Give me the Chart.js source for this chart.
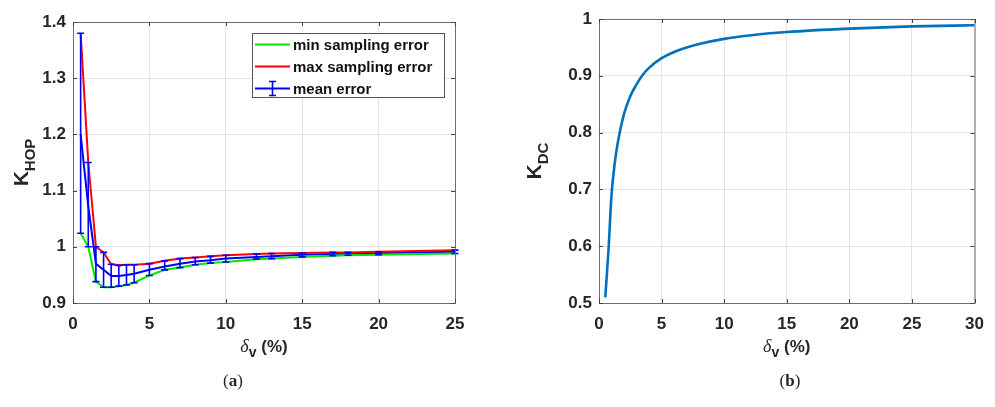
<!DOCTYPE html>
<html>
<head>
<meta charset="utf-8">
<script src="https://cdn.jsdelivr.net/npm/chart.js@4.4.0/dist/chart.umd.min.js"></script>
<style>
  body { margin: 0; background: #fff; width: 995px; height: 407px; overflow: hidden; position: relative; }
  #wrapA { position: absolute; left: 0; top: 0; width: 480px; height: 407px; }
  #wrapB { position: absolute; left: 490px; top: 0; width: 505px; height: 407px; }
</style>
</head>
<body>
<div id="wrapA"><canvas id="chartA"></canvas></div>
<div id="wrapB"><canvas id="chartB"></canvas></div>
<script>
// (a) K_HOP vs delta_v
const deltaA = [0.5, 1, 1.5, 2, 2.5, 3, 3.5, 4, 5, 6, 7, 8, 9, 10, 12, 13, 15, 17, 18, 20, 25];
const maxErr = [1.38, 1.15, 1.0, 0.99, 0.969, 0.967, 0.968, 0.968, 0.970, 0.975, 0.979, 0.981, 0.983, 0.985, 0.987, 0.988, 0.989, 0.990, 0.990, 0.991, 0.994];
const minErr = [1.024, 1.0, 0.938, 0.928, 0.928, 0.930, 0.932, 0.936, 0.949, 0.959, 0.963, 0.968, 0.971, 0.973, 0.978, 0.979, 0.982, 0.984, 0.985, 0.986, 0.988];
const meanErr = [1.2, 1.072, 0.97, 0.959, 0.948, 0.948, 0.950, 0.952, 0.959, 0.965, 0.970, 0.974, 0.976, 0.979, 0.982, 0.983, 0.986, 0.987, 0.988, 0.989, 0.991];
const xTicksA = [0, 5, 10, 15, 20, 25];
const yTicksA = [0.9, 1, 1.1, 1.2, 1.3, 1.4];

// (b) K_DC vs delta_v
const deltaB = [0.5, 0.75, 1, 1.25, 1.5, 2, 2.5, 3, 3.5, 4, 5, 6, 7, 8, 10, 12, 15, 20, 25, 30];
const kdc = [0.51, 0.59, 0.69, 0.745, 0.782, 0.833, 0.864, 0.885, 0.902, 0.914, 0.931, 0.942, 0.950, 0.956, 0.965, 0.971, 0.977, 0.983, 0.987, 0.989];
const xTicksB = [0, 5, 10, 15, 20, 25, 30];
const yTicksB = [0.5, 0.6, 0.7, 0.8, 0.9, 1];

const TXT = '#262626';
const FONT = 'Liberation Sans, Arial, sans-serif';

function pts(xs, ys) {
    return xs.map((x, i) => ({ x: x, y: ys[i] }));
}

function fmt(v) {
    return String(Math.round(v * 10) / 10);
}

// box round the axes with small inward ticks, like matlab
const boxPlugin = {
    id: 'box',
    afterDraw(chart) {
        const { ctx, chartArea: a, scales } = chart;
        ctx.save();
        ctx.strokeStyle = '#6e6e6e';
        ctx.lineWidth = 1;
        ctx.strokeRect(a.left + 0.5, a.top + 0.5, a.right - a.left, a.bottom - a.top);
        ctx.strokeStyle = '#444';
        scales.x.ticks.forEach(t => {
            const px = Math.round(scales.x.getPixelForValue(t.value)) + 0.5;
            ctx.beginPath();
            ctx.moveTo(px, a.bottom); ctx.lineTo(px, a.bottom - 4);
            ctx.moveTo(px, a.top); ctx.lineTo(px, a.top + 4);
            ctx.stroke();
        });
        scales.y.ticks.forEach(t => {
            const py = Math.round(scales.y.getPixelForValue(t.value)) + 0.5;
            ctx.beginPath();
            ctx.moveTo(a.left, py); ctx.lineTo(a.left + 4, py);
            ctx.moveTo(a.right, py); ctx.lineTo(a.right - 4, py);
            ctx.stroke();
        });
        ctx.restore();
    }
};

// axis titles with subscripts and the (a)/(b) caption
function titlesPlugin(sub, caption) {
    return {
        id: 'titles',
        afterDraw(chart) {
            const { ctx, chartArea: a } = chart;
            const cx = (a.left + a.right) / 2;
            ctx.save();
            ctx.fillStyle = TXT;
            ctx.textBaseline = 'alphabetic';
            // x title: delta_v (%)
            ctx.font = 'italic 18px "Liberation Serif", serif';
            const w1 = ctx.measureText('δ').width;
            ctx.font = 'bold 14px ' + FONT;
            const w2 = ctx.measureText('v').width;
            ctx.font = 'bold 17px ' + FONT;
            const w3 = ctx.measureText(' (%)').width;
            let x0 = cx - (w1 + w2 + w3) / 2;
            const base = 352;
            ctx.font = 'italic 18px "Liberation Serif", serif';
            ctx.fillText('δ', x0, base);
            ctx.font = 'bold 14px ' + FONT;
            ctx.fillText('v', x0 + w1, base + 5);
            ctx.font = 'bold 17px ' + FONT;
            ctx.fillText(' (%)', x0 + w1 + w2, base);

            // y title: K_sub rotated
            ctx.save();
            ctx.font = 'bold 21px ' + FONT;
            const k = ctx.measureText('K').width;
            ctx.font = 'bold 15px ' + FONT;
            const s = ctx.measureText(sub).width;
            const cy = (a.top + a.bottom) / 2;
            ctx.translate(sub === 'HOP' ? 28 : 51, cy);
            ctx.rotate(-Math.PI / 2);
            ctx.font = 'bold 21px ' + FONT;
            ctx.fillText('K', -(k + s) / 2, 0);
            ctx.font = 'bold 15px ' + FONT;
            ctx.fillText(sub, -(k + s) / 2 + k, 7);
            ctx.restore();

            // caption
            ctx.font = '17px "Liberation Serif", serif';
            const p1 = ctx.measureText('(').width;
            const p2 = ctx.measureText(')').width;
            ctx.font = 'bold 17px "Liberation Serif", serif';
            const lw = ctx.measureText(caption).width;
            const capX = caption === 'a' ? 233 : 300;
            let cx0 = capX - (p1 + lw + p2) / 2;
            ctx.font = '17px "Liberation Serif", serif';
            ctx.fillText('(', cx0, 386);
            ctx.fillText(')', cx0 + p1 + lw, 386);
            ctx.font = 'bold 17px "Liberation Serif", serif';
            ctx.fillText(caption, cx0 + p1, 386);
            ctx.restore();
        }
    };
}

// error bars from min to max sampling error, drawn on the scales
const errorBarPlugin = {
    id: 'errbars',
    afterDatasetsDraw(chart) {
        const { ctx, scales } = chart;
        ctx.save();
        ctx.strokeStyle = '#0000ff';
        ctx.lineWidth = 1.6;
        deltaA.forEach((d, i) => {
            const px = scales.x.getPixelForValue(d);
            const yLo = scales.y.getPixelForValue(minErr[i]);
            const yHi = scales.y.getPixelForValue(maxErr[i]);
            ctx.beginPath();
            ctx.moveTo(px, yLo); ctx.lineTo(px, yHi);
            ctx.moveTo(px - 3.5, yLo); ctx.lineTo(px + 3.5, yLo);
            ctx.moveTo(px - 3.5, yHi); ctx.lineTo(px + 3.5, yHi);
            ctx.stroke();
        });
        ctx.restore();
    }
};

// legend box of plot (a)
const legendPlugin = {
    id: 'legendA',
    afterDraw(chart) {
        const { ctx } = chart;
        const items = [
            { label: 'min sampling error', color: '#00e600', bar: false },
            { label: 'max sampling error', color: '#ff0000', bar: false },
            { label: 'mean error', color: '#0000ff', bar: true }
        ];
        ctx.save();
        ctx.fillStyle = '#fff';
        ctx.fillRect(252, 33, 192, 64);
        ctx.strokeStyle = '#555';
        ctx.lineWidth = 1;
        ctx.strokeRect(252.5, 33.5, 192, 64);
        ctx.font = 'bold 15px ' + FONT;
        ctx.textBaseline = 'middle';
        items.forEach((it, i) => {
            const y = 44.5 + i * 22;
            ctx.strokeStyle = it.color;
            ctx.lineWidth = 2;
            ctx.beginPath();
            ctx.moveTo(255, y); ctx.lineTo(290, y);
            ctx.stroke();
            if (it.bar) {
                ctx.lineWidth = 1.6;
                ctx.beginPath();
                ctx.moveTo(272.5, y - 7); ctx.lineTo(272.5, y + 7);
                ctx.moveTo(269, y - 7); ctx.lineTo(276, y - 7);
                ctx.moveTo(269, y + 7); ctx.lineTo(276, y + 7);
                ctx.stroke();
            }
            ctx.fillStyle = '#111';
            ctx.fillText(it.label, 293, y + 1);
        });
        ctx.restore();
    }
};

function axes(xmin, xmax, xTicks, ymin, ymax, yTicks, yWidth) {
    return {
        x: {
            type: 'linear', min: xmin, max: xmax,
            afterBuildTicks: s => { s.ticks = xTicks.map(v => ({ value: v })); },
            afterFit: s => { s.height = 104; },
            grid: { color: '#e3e3e3', drawTicks: false },
            border: { display: false },
            ticks: { padding: 11, color: TXT, font: { family: FONT, size: 17, weight: 'bold' }, callback: v => fmt(v) }
        },
        y: {
            type: 'linear', min: ymin, max: ymax,
            afterBuildTicks: s => { s.ticks = yTicks.map(v => ({ value: v })); },
            afterFit: s => { s.width = yWidth; },
            grid: { color: '#e3e3e3', drawTicks: false },
            border: { display: false },
            ticks: { padding: 7, color: TXT, font: { family: FONT, size: 17, weight: 'bold' }, callback: v => fmt(v) }
        }
    };
}

const common = {
    responsive: true,
    maintainAspectRatio: false,
    animation: false,
    plugins: { legend: { display: false }, tooltip: { enabled: false } },
    elements: { point: { radius: 0 } }
};

new Chart(document.getElementById('chartA'), {
    type: 'scatter',
    data: {
        datasets: [
            { label: 'min sampling error', data: pts(deltaA, minErr), showLine: true, borderColor: '#00e600', borderWidth: 2 },
            { label: 'max sampling error', data: pts(deltaA, maxErr), showLine: true, borderColor: '#ff0000', borderWidth: 2 },
            { label: 'mean error', data: pts(deltaA, meanErr), showLine: true, borderColor: '#0000ff', borderWidth: 2 }
        ]
    },
    options: Object.assign({}, common, {
        layout: { padding: { left: 0, right: 25, top: 22, bottom: 0 } },
        scales: axes(0, 25, xTicksA, 0.9, 1.4, yTicksA, 73)
    }),
    plugins: [errorBarPlugin, boxPlugin, legendPlugin, titlesPlugin('HOP', 'a')]
});

new Chart(document.getElementById('chartB'), {
    type: 'scatter',
    data: {
        datasets: [
            { label: 'K_DC', data: pts(deltaB, kdc), showLine: true, borderColor: '#0072bd', borderWidth: 2.6, cubicInterpolationMode: 'monotone' }
        ]
    },
    options: Object.assign({}, common, {
        layout: { padding: { left: 0, right: 9, top: 19, bottom: 0 } },
        scales: axes(0, 30, xTicksB, 0.5, 1, yTicksB, 109)
    }),
    plugins: [boxPlugin, titlesPlugin('DC', 'b')]
});
</script>
</body>
</html>
